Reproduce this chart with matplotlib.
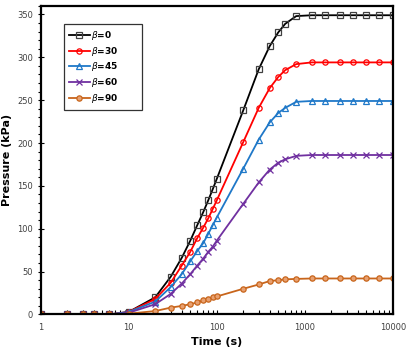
import matplotlib.pyplot as plt
from matplotlib.ticker import FixedLocator, MultipleLocator, NullFormatter, LogLocator

time_s = [1, 2, 3, 4, 6, 10, 20, 30, 40, 50, 60, 70, 80, 90, 100,
          200, 300, 400, 500, 600, 800, 1200, 1700, 2500, 3500, 5000, 7000, 10000]

p_beta0 = [0, 0, 0, 0, 0, 3, 20, 44, 66, 86, 104, 119, 133, 146, 158,
           238, 286, 313, 329, 339, 348, 349, 349, 349, 349, 349, 349, 349]
p_beta30 = [0, 0, 0, 0, 0, 3, 18, 37, 57, 73, 89, 101, 112, 123, 133,
            201, 241, 264, 277, 285, 292, 294, 294, 294, 294, 294, 294, 294]
p_beta45 = [0, 0, 0, 0, 0, 3, 15, 32, 47, 62, 74, 83, 94, 104, 113,
            170, 204, 224, 235, 241, 248, 249, 249, 249, 249, 249, 249, 249]
p_beta60 = [0, 0, 0, 0, 0, 2, 12, 24, 36, 47, 57, 65, 73, 79, 86,
            129, 154, 169, 177, 181, 185, 186, 186, 186, 186, 186, 186, 186]
p_beta90 = [0, 0, 0, 0, 0, 1, 4, 8, 10, 12, 14, 16.5, 18.5, 20, 21,
            30, 35, 39, 40, 41, 41.5, 42, 42, 42, 42, 42, 42, 42]

series = [
    ("0", p_beta0, "#000000", "s", "#404040", "none"),
    ("30", p_beta30, "#FF0000", "o", "#FF0000", "none"),
    ("45", p_beta45, "#1F78C8", "^", "#1F78C8", "none"),
    ("60", p_beta60, "#7030A0", "x", "#7030A0", "none"),
    ("90", p_beta90, "#C8651B", "o", "#C8651B", "#E8A070"),
]

fig = plt.figure(figsize=(4.07, 3.54), dpi=100)
ax = fig.add_axes([0.1, 0.1116, 0.865, 0.872])

for label, values, color, marker, edge, face in series:
    ax.plot(time_s, values, color=color, lw=1.3, marker=marker, ms=3.8,
            mec=edge, mfc=face, mew=0.9, label=r"$\beta$=" + label)

ax.set_xscale("log")
ax.set_xlim(1, 10000)
ax.set_ylim(0, 360)
ax.set_xticks([1, 10, 100, 1000, 10000])
ax.set_xticklabels(["1", "10", "100", "1000", "10000"])
ax.xaxis.set_minor_locator(LogLocator(base=10, subs=range(2, 10)))
ax.xaxis.set_minor_formatter(NullFormatter())
ax.yaxis.set_major_locator(FixedLocator(range(0, 351, 50)))
ax.yaxis.set_minor_locator(MultipleLocator(10))

ax.tick_params(axis="x", which="both", direction="in", labelsize=6,
               labelcolor="#404040", length=3, width=0.8, pad=6)
ax.tick_params(axis="y", which="major", direction="inout", labelsize=6,
               labelcolor="#404040", length=5, width=0.8, pad=3)
ax.tick_params(axis="y", which="minor", direction="out", length=2.5, width=0.8)
for sp in ax.spines.values():
    sp.set_linewidth(1.6)

ax.set_xlabel("Time (s)", fontsize=8, fontweight="bold", labelpad=4)
ax.set_ylabel("Pressure (kPa)", fontsize=8, fontweight="bold", labelpad=4)

leg = ax.legend(loc="upper left", bbox_to_anchor=(0.065, 0.0, 0.222, 0.941),
                mode="expand",
                prop={"weight": "bold", "size": 6.5}, frameon=True, fancybox=False,
                edgecolor="black", handlelength=2.4, labelspacing=0.3,
                borderpad=0.55, borderaxespad=0, handletextpad=0.1)
leg.get_frame().set_linewidth(0.9)

fig.savefig("out.png", dpi=100)
